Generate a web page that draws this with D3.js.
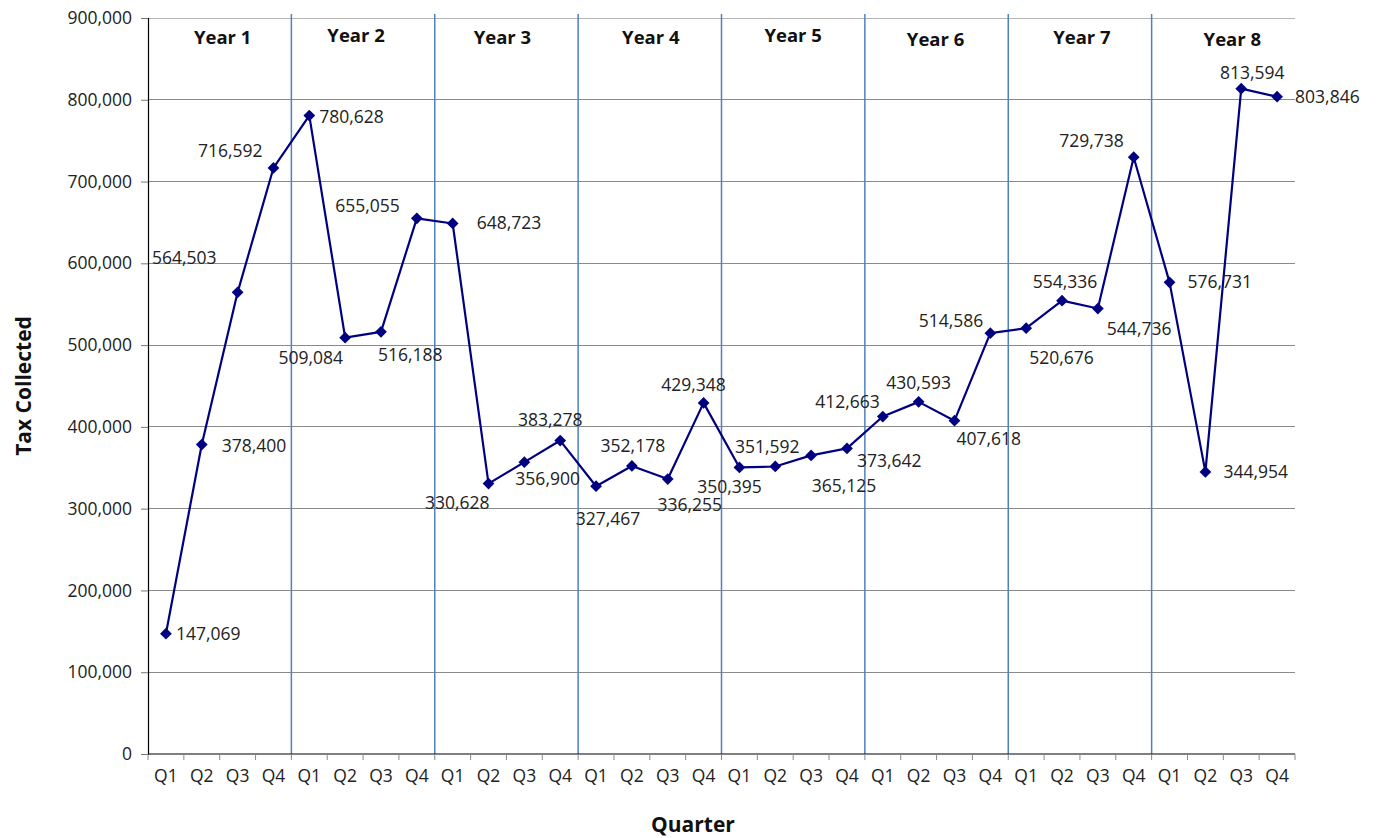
<!DOCTYPE html>
<html>
<head>
<meta charset="utf-8">
<script src="https://cdn.jsdelivr.net/npm/d3@7"></script>
<style>
  html, body { margin: 0; padding: 0; background: #fff; }
  svg { display: block; font-family: "Open Sans", "Noto Sans", sans-serif; }
</style>
</head>
<body>
<svg id="chart" width="1380" height="838"></svg>
<script>
// Quarterly tax collections over eight years
const years = ["Year 1", "Year 2", "Year 3", "Year 4", "Year 5", "Year 6", "Year 7", "Year 8"];
const quarters = ["Q1", "Q2", "Q3", "Q4"];
const taxCollected = [
  147069, 378400, 564503, 716592,
  780628, 509084, 516188, 655055,
  648723, 330628, 356900, 383278,
  327467, 352178, 336255, 429348,
  350395, 351592, 365125, 373642,
  412663, 430593, 407618, 514586,
  520676, 554336, 544736, 729738,
  576731, 344954, 813594, 803846
];
const yTicks = [0, 100000, 200000, 300000, 400000, 500000, 600000, 700000, 800000, 900000];

// Label placement around each marker: [dx, dy, anchor]
const labelPlacement = [
  [10, 0, "start"], [20, 1, "start"], [-21, -34, "end"], [-11, -17, "end"],
  [10, 1, "start"], [-2, 20, "end"], [-3, 23, "start"], [-17, -12, "end"],
  [24, -1, "start"], [1, 19, "end"], [-9, 17, "start"], [-10, -21, "middle"],
  [12, 33, "middle"], [1, -20, "middle"], [22, 26, "middle"], [-10, -18, "middle"],
  [-10, 19, "middle"], [-8, -20, "middle"], [33, 30, "middle"], [10, 12, "start"],
  [-3, -15, "end"], [0, -19, "middle"], [2, 18, "start"], [-7, -12, "end"],
  [3, 30, "start"], [3, -19, "middle"], [9, 20, "start"], [-10, -16, "end"],
  [18, 0, "start"], [18, 0, "start"], [11, -16, "middle"], [18, 0, "start"]
];
// Small nudges for the year titles inside their bands: [dx, dy]
const titleNudge = [[3, 0], [-7, -2], [-4, 0], [1, 0], [0, -2], [-1, 2], [2, 0], [9, 2]];

const svg = d3.select("#chart");
const margin = { left: 148, right: 85, top: 18, bottom: 84 };
const W = 1380, H = 838;
const plotW = W - margin.left - margin.right;
const plotH = H - margin.top - margin.bottom;
const fontMain = 17.5;

const points = taxCollected.map((v, i) => ({
  key: i,
  year: years[Math.floor(i / 4)],
  quarter: quarters[i % 4],
  value: v
}));

const x = d3.scaleBand().domain(points.map(d => d.key)).range([0, plotW]).paddingInner(0).paddingOuter(0);
const y = d3.scaleLinear().domain([0, 900000]).range([plotH, 0]);
const xYear = d3.scaleBand().domain(years).range([0, plotW]);

const g = svg.append("g").attr("transform", `translate(${margin.left},${margin.top})`);

// horizontal gridlines
g.append("g").selectAll("line").data(yTicks.filter(t => t > 0)).join("line")
  .attr("x1", 0).attr("x2", plotW)
  .attr("y1", d => y(d)).attr("y2", d => y(d))
  .attr("stroke", d => d === 900000 ? "#b4b4b4" : "#8a8a8a")
  .attr("stroke-width", 1)
  .attr("shape-rendering", "crispEdges");

// year separators
g.append("g").selectAll("line").data(years.slice(1)).join("line")
  .attr("x1", d => xYear(d)).attr("x2", d => xYear(d))
  .attr("y1", -4).attr("y2", plotH)
  .attr("stroke", "#4f81bd")
  .attr("stroke-width", 1.5);

// year titles
g.append("g").selectAll("text").data(years).join("text")
  .attr("x", (d, i) => xYear(d) + xYear.bandwidth() / 2 + titleNudge[i][0])
  .attr("y", (d, i) => 26 + titleNudge[i][1])
  .attr("text-anchor", "middle")
  .attr("font-size", 18.5)
  .attr("font-weight", "bold")
  .attr("fill", "#111")
  .text(d => d);

// y axis
const yAxis = g.append("g")
  .call(d3.axisLeft(y).tickValues(yTicks).tickSize(7).tickPadding(9).tickFormat(d3.format(",")));
yAxis.select(".domain").attr("stroke", "#000").attr("stroke-width", 1.2);
yAxis.selectAll(".tick line").attr("stroke", "#777");
yAxis.selectAll(".tick text").attr("font-size", fontMain).attr("fill", "#222")
  .attr("font-family", "'Open Sans', 'Noto Sans', sans-serif");

// x axis: quarter labels centred in bands, ticks at band edges
const xAxisG = g.append("g").attr("transform", `translate(0,${plotH})`);
xAxisG.append("line").attr("x1", 0).attr("x2", plotW).attr("y1", 0).attr("y2", 0)
  .attr("stroke", "#000").attr("stroke-width", 1.2);
const edges = points.map(d => x(d.key)).concat([plotW]);
xAxisG.selectAll(".edge").data(edges).join("line").attr("class", "edge")
  .attr("x1", d => d).attr("x2", d => d).attr("y1", 0).attr("y2", 6)
  .attr("stroke", "#888");
xAxisG.selectAll(".qlabel").data(points).join("text").attr("class", "qlabel")
  .attr("x", d => x(d.key) + x.bandwidth() / 2)
  .attr("y", 28)
  .attr("text-anchor", "middle")
  .attr("font-size", fontMain)
  .attr("fill", "#222")
  .text(d => d.quarter);

// series line
const line = d3.line()
  .x(d => x(d.key) + x.bandwidth() / 2)
  .y(d => y(d.value));
g.append("path").datum(points)
  .attr("d", line)
  .attr("fill", "none")
  .attr("stroke", "#000080")
  .attr("stroke-width", 2.2)
  .attr("stroke-linejoin", "round");

// diamond markers
g.append("g").selectAll("path").data(points).join("path")
  .attr("transform", d => `translate(${x(d.key) + x.bandwidth() / 2},${y(d.value)})`)
  .attr("d", d3.symbol().type(d3.symbolDiamond2).size(88))
  .attr("fill", "#000080");

// value labels
g.append("g").selectAll("text").data(points).join("text")
  .attr("x", d => x(d.key) + x.bandwidth() / 2 + labelPlacement[d.key][0])
  .attr("y", d => y(d.value) + labelPlacement[d.key][1])
  .attr("dy", "0.35em")
  .attr("text-anchor", d => labelPlacement[d.key][2])
  .attr("font-size", fontMain)
  .attr("fill", "#222")
  .text(d => d3.format(",")(d.value));

// axis titles
svg.append("text")
  .attr("transform", `translate(31,${margin.top + plotH / 2}) rotate(-90)`)
  .attr("text-anchor", "middle")
  .attr("font-size", 21)
  .attr("font-weight", "bold")
  .attr("fill", "#111")
  .text("Tax Collected");
svg.append("text")
  .attr("x", 693).attr("y", 832)
  .attr("text-anchor", "middle")
  .attr("font-size", 21)
  .attr("font-weight", "bold")
  .attr("fill", "#111")
  .text("Quarter");
</script>
</body>
</html>
